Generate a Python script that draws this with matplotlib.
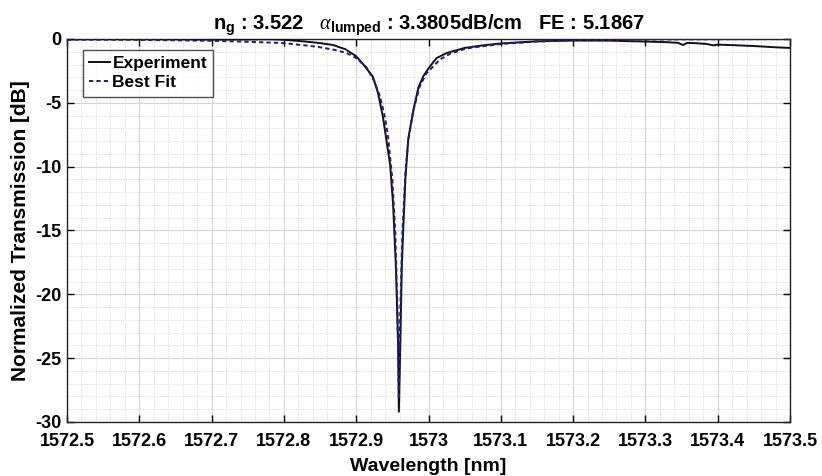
import matplotlib
matplotlib.use("Agg")
import matplotlib.pyplot as plt
from matplotlib.ticker import MultipleLocator, FuncFormatter

plt.rcParams['font.family'] = ['Liberation Sans', 'DejaVu Sans']
plt.rcParams['axes.unicode_minus'] = False
plt.rcParams['mathtext.fontset'] = 'custom'
plt.rcParams['mathtext.rm'] = 'Liberation Sans'
plt.rcParams['mathtext.it'] = 'Liberation Serif:italic'
plt.rcParams['mathtext.bf'] = 'Liberation Sans:bold'

# Experiment data (wavelength nm, transmission dB)
exp_wl = [1572.50, 1572.55, 1572.60, 1572.65, 1572.70, 1572.75, 1572.78, 1572.80,
          1572.83, 1572.85, 1572.868, 1572.885, 1572.90, 1572.91, 1572.923, 1572.93,
          1572.937, 1572.942, 1572.947, 1572.951, 1572.955, 1572.958, 1572.959,
          1572.961, 1572.963, 1572.965, 1572.968, 1572.972, 1572.979, 1572.986,
          1572.993, 1573.000, 1573.011, 1573.025, 1573.05, 1573.075, 1573.10,
          1573.15, 1573.20, 1573.25, 1573.30, 1573.33, 1573.345, 1573.352, 1573.358,
          1573.37, 1573.385, 1573.394, 1573.40, 1573.42, 1573.45, 1573.48, 1573.50]
exp_db = [-0.03, -0.02, -0.02, -0.03, -0.05, -0.04, -0.02, -0.06,
          -0.20, -0.32, -0.47, -0.80, -1.35, -2.0, -2.95, -4.2,
          -6.1, -8.0, -9.9, -12.9, -18.0, -24.0, -29.2,
          -24.0, -18.0, -15.0, -11.0, -7.8, -5.6, -3.8,
          -2.9, -2.3, -1.5, -1.1, -0.70, -0.50, -0.35,
          -0.18, -0.12, -0.13, -0.20, -0.25, -0.30, -0.47, -0.30,
          -0.33, -0.39, -0.50, -0.44, -0.48, -0.55, -0.65, -0.70]

# Best fit data
fit_wl = [1572.50, 1572.60, 1572.70, 1572.75, 1572.80, 1572.845, 1572.87, 1572.887,
          1572.90, 1572.914, 1572.925, 1572.933, 1572.940, 1572.944, 1572.950,
          1572.954, 1572.957, 1572.959, 1572.961, 1572.964, 1572.968, 1572.972,
          1572.979, 1572.988, 1572.997, 1573.016, 1573.03, 1573.053, 1573.10,
          1573.15, 1573.20, 1573.30, 1573.40, 1573.50]
fit_db = [-0.05, -0.07, -0.14, -0.22, -0.32, -0.60, -0.85, -1.1,
          -1.5, -2.2, -3.3, -4.5, -6.2, -7.6, -11.0,
          -15.0, -21.0, -28.2, -21.0, -15.0, -10.5, -8.0,
          -5.6, -3.7, -2.7, -1.6, -1.15, -0.73, -0.39,
          -0.20, -0.10, -0.04, -0.02, -0.01]

x_ticks = [1572.5, 1572.6, 1572.7, 1572.8, 1572.9, 1573.0, 1573.1, 1573.2, 1573.3, 1573.4, 1573.5]
y_ticks = [-30, -25, -20, -15, -10, -5, 0]

fig = plt.figure(figsize=(8.22, 4.76), dpi=100)
ax = fig.add_axes([67/822, 1-422/476, (790-67)/822, (422-39)/476])

ax.plot(exp_wl, exp_db, color='#111111', lw=1.4, label='Experiment', zorder=3)
ax.plot(fit_wl, fit_db, color='#1c1c8c', lw=1.4, ls=(0, (2.2, 1.6)), label='Best Fit', zorder=4)

ax.set_xlim(1572.5, 1573.5)
ax.set_ylim(-30, 0)
ax.set_xticks(x_ticks)
ax.set_yticks(y_ticks)
ax.xaxis.set_minor_locator(MultipleLocator(0.02))
ax.yaxis.set_minor_locator(MultipleLocator(1))
ax.xaxis.set_major_formatter(FuncFormatter(lambda v, p: ('%.1f' % v).rstrip('0').rstrip('.')))

ax.grid(True, which='major', color='#d4d4d4', lw=0.8, ls='-', zorder=0)
ax.grid(True, which='minor', color='#d4d4d4', lw=0.7, ls=(0, (1, 1.5)), zorder=0)
ax.set_axisbelow(True)

ax.tick_params(which='major', direction='in', length=5, width=1, top=True, right=True,
               labelsize=13)
ax.tick_params(axis='x', which='major', pad=8)
ax.tick_params(axis='y', which='major', pad=4)
ax.tick_params(which='minor', length=0, top=True, right=True)
for lab in ax.get_xticklabels() + ax.get_yticklabels():
    lab.set_fontweight('bold')
for s in ax.spines.values():
    s.set_linewidth(1.0)
    s.set_color('#222222')

ax.set_xlabel('Wavelength [nm]', fontsize=14, fontweight='bold', labelpad=6)
ax.set_ylabel('Normalized Transmission [dB]', fontsize=15, fontweight='bold', labelpad=4)

title = (r'$\mathbf{n_g}$' + ' : 3.522   ' + r'$\mathit{\alpha}_{\mathbf{lumped}}$'
         + ' : 3.3805dB/cm   FE : 5.1867')
ax.set_title(title, fontsize=14.5, fontweight='bold', pad=7)

leg = ax.legend(loc='upper left', bbox_to_anchor=(0.022, 0.972), fontsize=12.5,
                frameon=True, fancybox=False, handlelength=1.2, handletextpad=0.15,
                borderpad=0.35, labelspacing=0.25, borderaxespad=0)
leg.get_frame().set_edgecolor('#222222')
leg.get_frame().set_linewidth(1.0)
for t in leg.get_texts():
    t.set_fontweight('bold')

fig.savefig('out.png', dpi=100, facecolor='white')
